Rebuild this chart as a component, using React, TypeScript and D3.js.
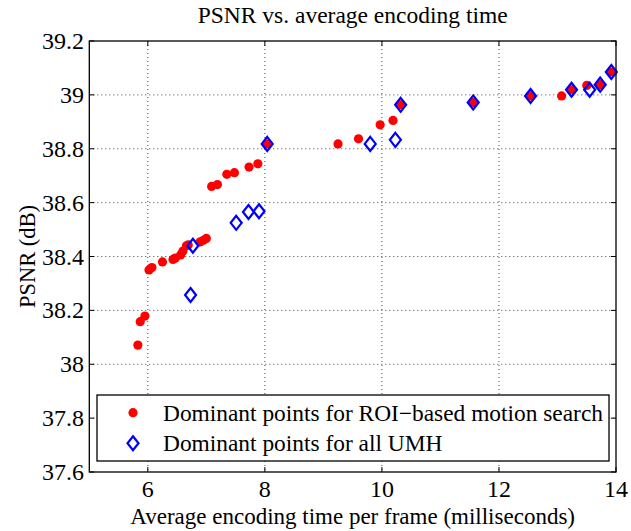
import React from "react";
import * as d3 from "d3";

const roiTime = [5.83, 5.87, 5.95, 6.02, 6.07, 6.25, 6.43, 6.47, 6.56, 6.6, 6.66, 6.69, 6.89, 6.95, 7.0, 7.09, 7.19, 7.35, 7.48, 7.73, 7.88, 8.04, 9.25, 9.6, 9.97, 10.19, 10.32, 11.56, 12.54, 13.07, 13.24, 13.5, 13.73, 13.92];
const roiPsnr = [38.071, 38.158, 38.179, 38.35, 38.359, 38.38, 38.389, 38.394, 38.406, 38.42, 38.44, 38.443, 38.454, 38.46, 38.467, 38.66, 38.667, 38.705, 38.711, 38.732, 38.744, 38.818, 38.818, 38.837, 38.889, 38.905, 38.963, 38.972, 38.996, 38.996, 39.019, 39.035, 39.038, 39.085];

const umhTime = [6.73, 6.77, 7.51, 7.72, 7.9, 8.04, 9.8, 10.23, 10.32, 11.56, 12.54, 13.24, 13.55, 13.73, 13.92];
const umhPsnr = [38.257, 38.44, 38.525, 38.565, 38.568, 38.818, 38.818, 38.833, 38.963, 38.972, 38.996, 39.019, 39.019, 39.038, 39.085];

const xTicks = [6, 8, 10, 12, 14];
const yTicks = [37.6, 37.8, 38, 38.2, 38.4, 38.6, 38.8, 39, 39.2];
const legendLabels = ["Dominant points for ROI\u2212based motion search", "Dominant points for all UMH"];
const title = "PSNR vs. average encoding time";
const xLabel = "Average encoding time per frame (milliseconds)";
const yLabel = "PSNR (dB)";

const W = 631, H = 531;
const L = 89.3, R = 616, T = 41, B = 472;
const FONT = "Liberation Serif";
const ts = { fontFamily: FONT };

export default function App() {
  const x = d3.scaleLinear().domain([5, 14]).range([L, R]);
  const y = d3.scaleLinear().domain([37.6, 39.2]).range([B, T]);
  const tk = 5;
  const diamond = (cx: number, cy: number) => `M${cx},${cy - 7} L${cx + 5.5},${cy} L${cx},${cy + 7} L${cx - 5.5},${cy} Z`;
  const fmt = (v: number) => (Math.round(v * 10) / 10).toString();

  return (
    <svg width={W} height={H} style={{ position: "absolute", left: 0, top: 0, background: "#fff" }}>
      <rect x={0} y={0} width={W} height={H} fill="#fff" />
      {xTicks.filter(t => t < 14).map(t => (
        <line key={"gx" + t} x1={x(t)} x2={x(t)} y1={T} y2={B} stroke="#444" strokeWidth={1} strokeDasharray="1,3" />
      ))}
      {yTicks.filter(t => t > 37.6 && t < 39.2).map(t => (
        <line key={"gy" + t} x1={L} x2={R} y1={y(t)} y2={y(t)} stroke="#444" strokeWidth={1} strokeDasharray="1,3" />
      ))}
      {xTicks.map(t => (
        <g key={"tx" + t}>
          <line x1={x(t)} x2={x(t)} y1={B} y2={B - tk} stroke="#000" />
          <line x1={x(t)} x2={x(t)} y1={T} y2={T + tk} stroke="#000" />
          <text x={x(t)} y={497} fontSize={24} textAnchor="middle" style={ts}>{t}</text>
        </g>
      ))}
      {yTicks.map(t => (
        <g key={"ty" + t}>
          <line x1={L} x2={L + tk} y1={y(t)} y2={y(t)} stroke="#000" />
          <line x1={R} x2={R - tk} y1={y(t)} y2={y(t)} stroke="#000" />
          <text x={84} y={y(t) + 8} fontSize={24} textAnchor="end" style={ts}>{fmt(t)}</text>
        </g>
      ))}
      {roiTime.map((t, i) => (
        <circle key={"r" + i} cx={x(t)} cy={y(roiPsnr[i])} r={4.6} fill="#ff0000" />
      ))}
      {umhTime.map((t, i) => (
        <path key={"u" + i} d={diamond(x(t), y(umhPsnr[i]))} fill="none" stroke="#0000ff" strokeWidth={2.2} />
      ))}
      <rect x={L} y={T} width={R - L} height={B - T} fill="none" stroke="#000" strokeWidth={1.3} />
      <rect x={97} y={395} width={512} height={66} fill="#fff" stroke="#000" strokeWidth={1.3} />
      <circle cx={133} cy={412.7} r={4.6} fill="#ff0000" />
      <text x={163} y={420.7} fontSize={23.4} style={ts}>{legendLabels[0]}</text>
      <path d={diamond(133, 443.3)} fill="none" stroke="#0000ff" strokeWidth={2.2} />
      <text x={163} y={451.3} fontSize={23.4} style={ts}>{legendLabels[1]}</text>
      <text x={(L + R) / 2} y={23} fontSize={23.5} textAnchor="middle" style={ts}>{title}</text>
      <text x={(L + R) / 2} y={524} fontSize={23} textAnchor="middle" style={ts}>{xLabel}</text>
      <text transform={`translate(35, ${(T + B) / 2}) rotate(-90)`} fontSize={22.5} textAnchor="middle" style={ts}>{yLabel}</text>
    </svg>
  );
}
